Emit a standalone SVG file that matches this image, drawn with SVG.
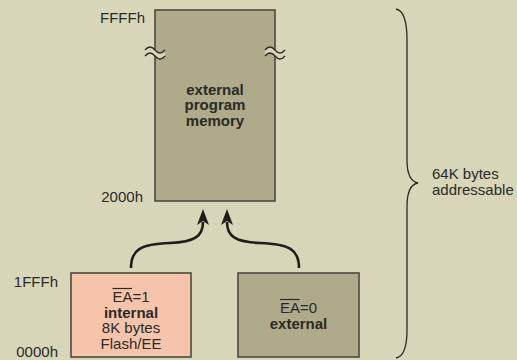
<svg xmlns="http://www.w3.org/2000/svg" width="517" height="360" viewBox="0 0 517 360">
  <style>
    text { font-family: "Liberation Sans", Arial, sans-serif; font-size: 15px; fill: #2a2a28; }
    .b { font-weight: bold; }
    .mid { text-anchor: middle; }
    .end { text-anchor: end; }
    .box { stroke: #4a4a42; stroke-width: 1.6; }
    .ext { fill: #aeaa8a; }
    .int { fill: #f6c4ab; }
    .wire { fill: none; stroke: #1e1e1e; stroke-width: 2.6; }
    .ovl { stroke: #2a2a28; stroke-width: 1.2; }
    .brk { fill: #d8d6b8; stroke: none; }
    .wave { fill: none; stroke: #2a2a28; stroke-width: 1.3; }
  </style>
  <defs>
    <marker id="head" viewBox="0 0 16 12" markerUnits="userSpaceOnUse" markerWidth="16" markerHeight="12" refX="3" refY="6" orient="auto">
      <path d="M0,0 L16,6 L0,12 L4,6 Z" fill="#1e1e1e"/>
    </marker>
  </defs>

  <rect width="517" height="360" fill="#d8d6b8"/>

  <!-- address labels -->
  <g id="addresses">
    <text class="end" x="145" y="23">FFFFh</text>
    <text class="end" x="143" y="202">2000h</text>
    <text class="end" x="58" y="287">1FFFh</text>
    <text class="end" x="58" y="357">0000h</text>
  </g>

  <!-- external program memory, 2000h..FFFFh -->
  <g id="ext-memory">
    <rect class="box ext" x="155" y="10" width="120" height="191"/>
    <!-- break marks on both edges -->
    <path class="brk" d="M145,50 Q150,44 155,50 Q160,56 165,50 L165,56 Q160,62 155,56 Q150,50 145,56 Z"/>
    <path class="wave" d="M145,50 Q150,44 155,50 Q160,56 165,50 M145,56 Q150,50 155,56 Q160,62 165,56"/>
    <path class="brk" d="M265,50 Q270,44 275,50 Q280,56 285,50 L285,56 Q280,62 275,56 Q270,50 265,56 Z"/>
    <path class="wave" d="M265,50 Q270,44 275,50 Q280,56 285,50 M265,56 Q270,50 275,56 Q280,62 285,56"/>
    <text class="b mid" x="215" y="94.5">external</text>
    <text class="b mid" x="215" y="110">program</text>
    <text class="b mid" x="215" y="125.5">memory</text>
  </g>

  <!-- internal Flash/EE, 0000h..1FFFh -->
  <g id="int-memory">
    <rect class="box int" x="71" y="273" width="120" height="84"/>
    <text class="mid" x="131" y="302">EA=1</text>
    <line class="ovl" x1="112.5" y1="288.5" x2="132" y2="288.5"/>
    <text class="b mid" x="131" y="317.5">internal</text>
    <text class="mid" x="131" y="333">8K bytes</text>
    <text class="mid" x="131" y="348.5">Flash/EE</text>
  </g>

  <!-- external, 0000h..1FFFh -->
  <g id="ext-low">
    <rect class="box ext" x="238" y="273" width="121" height="84"/>
    <text class="mid" x="298.5" y="313">EA=0</text>
    <line class="ovl" x1="280" y1="299.5" x2="299.5" y2="299.5"/>
    <text class="b mid" x="298.5" y="328.5">external</text>
  </g>

  <!-- address range brace -->
  <g id="range">
    <path class="wave" d="M396,9 Q407,11 407,40 L407,160 Q407,181 418,183 Q407,185 407,206 L407,330 Q407,356 396,358" stroke-width="1.4"/>
    <text x="432" y="178.5">64K bytes</text>
    <text x="432" y="195">addressable</text>
  </g>

  <g id="connectors">
    <path class="wire" d="M131,268 C131,250 140,244 170,243 C195,242 203,236 203,222" marker-end="url(#head)"/>
    <path class="wire" d="M299,268 C299,250 290,244 260,243 C235,242 227,236 227,222" marker-end="url(#head)"/>
  </g>
</svg>
